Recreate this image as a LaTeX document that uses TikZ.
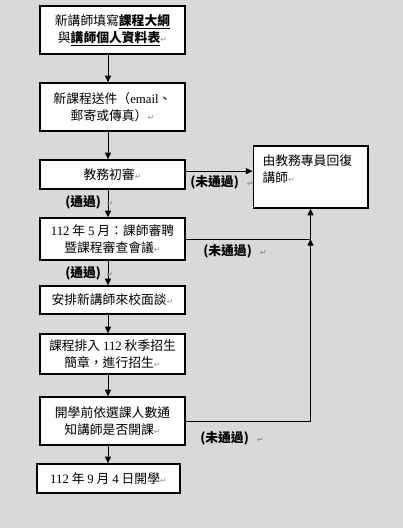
\documentclass[tikz,border=0pt]{standalone}
\usepackage{fontspec}
\setmainfont{Noto Sans CJK TC}
\newfontfamily\lat{Liberation Serif}
\newfontfamily\symf{DejaVu Sans}
\usepackage{xcolor}
\definecolor{bggray}{RGB}{217,217,217}
\definecolor{mgray}{RGB}{150,150,150}
\usetikzlibrary{arrows.meta,positioning}
\newcommand{\pmk}{{\symf\color{mgray}\fontsize{6}{6}\selectfont ↵}}
\newcommand{\en}[1]{{\lat #1}}

\begin{document}
\begin{tikzpicture}[
  x=0.75pt,y=-0.75pt,
  fbox/.style={rectangle,draw,line width=1pt,fill=white,minimum width=108.75pt,inner sep=2pt,align=center,font=\fontsize{9.6}{12.75}\selectfont},
  tag/.style={font=\fontsize{9.6}{12}\selectfont\bfseries,inner sep=0pt,anchor=west},
  arrow/.style={-{Triangle[length=5pt,width=4.5pt]},line width=0.75pt}
]
  \fill[bggray] (0,0) rectangle (403,528);
  \useasboundingbox (0,0) rectangle (403,528);
  \coordinate (axis) at (108,0);

  \node[fbox,minimum height=36pt] (fill) at (112.5,30) {新講師填寫\underline{\textbf{課程大綱}}\\與\underline{\textbf{講師個人資料表}}\pmk};
  \node[fbox,minimum height=36pt] (send) at (112.5,107) {新課程送件（\en{email}、\\郵寄或傳真）\pmk};
  \node[fbox,minimum height=21.75pt] (review) at (112.5,174.5) {教務初審\pmk};
  \node[fbox,minimum height=31.5pt] (talk) at (112.5,239) {\en{112} 年 \en{5} 月：課師審聘\\暨課程審查會議\pmk};
  \node[fbox,minimum height=21pt] (meet) at (112.5,300) {安排新講師來校面談\pmk};
  \node[fbox,minimum height=30pt] (enrol) at (112.5,354) {課程排入 \en{112} 秋季招生\\簡章，進行招生\pmk};
  \node[fbox,minimum height=36pt] (notify) at (112.5,421) {開學前依選課人數通\\知講師是否開課\pmk};
  \node[fbox,minimum height=21.75pt,minimum width=107.25pt] (start) at (108.5,478.5) {\en{112} 年 \en{9} 月 \en{4} 日開學\pmk};
  \node[fbox,minimum height=46.5pt,minimum width=0pt,text width=72pt,inner xsep=7pt,align=left] (reply) at (310.5,177) {由教務專員回復\\講師\pmk\\\mbox{}};

  \draw[arrow] (fill.south -| axis) -- (send.north -| axis);
  \draw[arrow] (send.south -| axis) -- (review.north -| axis);
  \draw[arrow] (review.south -| axis) -- (talk.north -| axis);
  \draw[arrow] (talk.south -| axis) -- (meet.north -| axis);
  \draw[arrow] (meet.south -| axis) -- (enrol.north -| axis);
  \draw[arrow] (enrol.south -| axis) -- (notify.north -| axis);
  \draw[arrow] (notify.south -| axis) -- (start.north -| axis);

  \draw[arrow] ([yshift=2.5pt]review.east) -- ([yshift=2.5pt]review.east -| reply.west);
  \draw[line width=0.75pt] (talk.east) -- (talk.east -| reply.south) coordinate (join);
  \draw[arrow] (join) -- (reply.south);
  \draw[arrow] (notify.east) -- (notify.east -| reply.south) -- (join);

  \node[tag] (fail1) at (190,182) {(未通過)\hspace{6pt}\pmk};
  \node[tag] (pass1) at (65,202) {(通過)\hspace{4pt}\pmk};
  \node[tag] (fail2) at (203,251) {(未通過)\hspace{6pt}\pmk};
  \node[tag] (pass2) at (65,273) {(通過)\hspace{4pt}\pmk};
  \node[tag] (fail3) at (200,438) {(未通過)\hspace{6pt}\pmk};
\end{tikzpicture}
\end{document}
